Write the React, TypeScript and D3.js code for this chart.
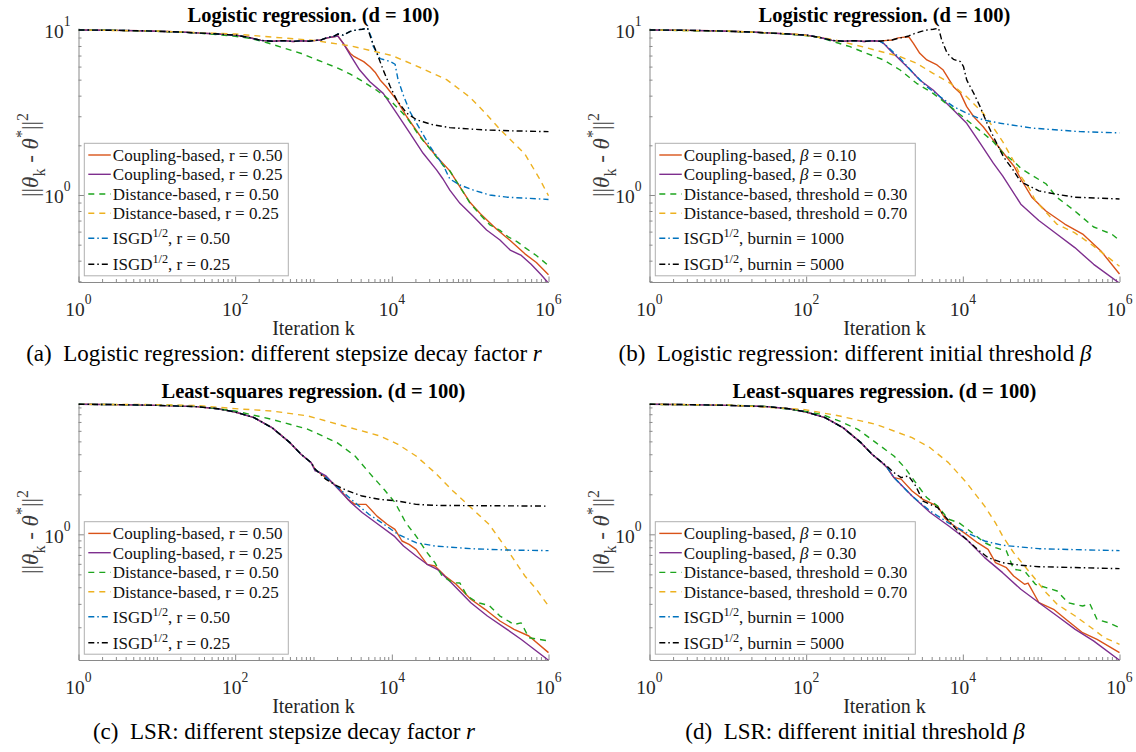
import React, { useEffect, useRef } from "react";
import * as d3 from "d3";

type Pt = [number, number]; // [iteration k, ||theta_k - theta*||^2]

// ---------- shared early paths ----------
const logisticStart: Pt[] = [[1, 10], [2, 9.97], [3, 9.95], [6, 9.9], [10, 9.82], [20, 9.72], [32, 9.6], [60, 9.45], [100, 9.3], [150, 9.0], [214, 8.65], [300, 8.55], [420, 8.62], [550, 8.52], [700, 8.6], [870, 8.55]];
const lsrStart: Pt[] = [[1, 9.5], [3, 9.45], [10, 9.33], [32, 9.12], [60, 8.8], [100, 8.32], [174, 7.54], [295, 6.34], [500, 4.89], [692, 4.0], [933, 3.46]];

// ---------- (a) logistic, stepsize decay r ----------
const aCouplingR050: Pt[] = [...logisticStart, [1000, 8.62], [1250, 8.7], [1500, 8.95], [1800, 9.1], [2040, 9.2], [2400, 8.3], [2950, 7.2], [3240, 6.95], [3700, 6.7], [4370, 6.43], [5250, 5.99], [6200, 5.5], [7080, 4.98], [8500, 4.53], [11500, 3.77], [15500, 2.98], [25100, 2.15], [37200, 1.71], [55000, 1.4], [74000, 1.12], [100000, 0.9], [135000, 0.77], [178000, 0.68], [218000, 0.62], [324000, 0.53], [500000, 0.44], [700000, 0.39], [1e6, 0.329]];
const aCouplingR025: Pt[] = [...logisticStart, [1000, 8.62], [1250, 8.7], [1500, 8.95], [1800, 9.1], [2040, 9.2], [2400, 8.3], [2950, 7.05], [3890, 5.72], [5250, 4.86], [7760, 4.13], [11500, 3.13], [17000, 2.37], [25100, 1.79], [37200, 1.42], [45000, 1.25], [55000, 1.07], [74000, 0.89], [110000, 0.74], [162000, 0.614], [240000, 0.534], [324000, 0.464], [450000, 0.43], [600000, 0.38], [800000, 0.33], [1e6, 0.292]];
const aDistR050: Pt[] = [[1, 10], [3, 9.95], [10, 9.82], [32, 9.6], [100, 9.15], [155, 8.9], [250, 8.4], [410, 7.8], [700, 7.2], [1100, 6.6], [2000, 5.9], [2950, 5.4], [4500, 4.8], [6460, 4.3], [9550, 3.75], [15500, 2.95], [22900, 2.25], [30900, 1.9], [45700, 1.5], [55000, 1.4], [74000, 1.12], [100000, 0.89], [135000, 0.757], [178000, 0.66], [240000, 0.61], [302000, 0.56], [400000, 0.52], [501000, 0.48], [700000, 0.43], [1e6, 0.373]];
const aDistR025: Pt[] = [[1, 10], [10, 9.85], [100, 9.45], [300, 9.05], [1000, 8.65], [3000, 8.0], [10000, 7.0], [20000, 6.1], [50000, 5.0], [100000, 3.9], [150000, 3.2], [250000, 2.45], [500000, 1.77], [750000, 1.28], [1e6, 0.99]];
const aIsgdR050: Pt[] = [...logisticStart, [1000, 8.62], [1250, 8.7], [1500, 9.0], [1800, 9.15], [2040, 9.45], [2400, 9.3], [2950, 9.8], [3500, 10.0], [4200, 10.1], [4900, 10.25], [5500, 9.0], [5750, 8.0], [7080, 6.7], [9550, 6.45], [11000, 6.2], [12000, 5.0], [14100, 4.0], [17000, 3.2], [20900, 2.7], [30900, 1.96], [45700, 1.5], [55000, 1.25], [74000, 1.15], [110000, 1.07], [178000, 1.0], [295000, 0.97], [1e6, 0.94]];
const aIsgdR025: Pt[] = [...logisticStart, [1000, 8.62], [1250, 8.7], [1500, 9.0], [1800, 9.15], [2040, 9.45], [2400, 9.3], [2950, 9.8], [3500, 10.0], [4200, 10.1], [4900, 10.25], [5500, 8.7], [6460, 7.22], [7760, 5.72], [9550, 4.53], [11500, 3.77], [15500, 3.13], [20900, 2.85], [33900, 2.66], [55000, 2.56], [148000, 2.48], [320000, 2.45], [1e6, 2.42]];

// ---------- (b) logistic, initial threshold beta ----------
const bCouplingB010: Pt[] = [...logisticStart, [1000, 8.62], [1250, 8.7], [1500, 8.95], [1800, 9.05], [2040, 9.1], [2340, 8.3], [2820, 7.22], [3470, 6.58], [4680, 6.14], [5620, 5.72], [7590, 4.53], [9330, 4.13], [11200, 3.43], [13800, 2.98], [18200, 2.59], [24500, 2.15], [33100, 1.79], [44700, 1.5], [55000, 1.25], [75900, 0.97], [115000, 0.8], [200000, 0.667], [339000, 0.58], [575000, 0.46], [1e6, 0.332]];
const bCouplingB030: Pt[] = [...logisticStart, [1000, 8.2], [1170, 7.57], [1585, 6.58], [2140, 5.72], [2820, 4.98], [4170, 4.33], [5620, 3.77], [7590, 3.27], [11200, 2.72], [16600, 2.06], [24500, 1.56], [32400, 1.3], [55000, 0.88], [93300, 0.7], [158000, 0.58], [269000, 0.48], [468000, 0.38], [1e6, 0.292]];
const bDistT030: Pt[] = [[1, 10], [10, 9.82], [32, 9.6], [83, 9.33], [150, 9.0], [224, 8.5], [363, 7.92], [589, 7.22], [977, 6.58], [1585, 5.72], [2570, 4.75], [4170, 4.13], [6920, 3.43], [11200, 2.85], [18200, 2.37], [24500, 2.1], [32400, 1.8], [44700, 1.6], [55000, 1.45], [79400, 1.3], [115000, 1.17], [158000, 0.97], [269000, 0.8], [468000, 0.64], [794000, 0.58], [1e6, 0.53]];
const bDistT070: Pt[] = [[1, 10], [10, 9.85], [83, 9.4], [224, 8.75], [589, 7.8], [1585, 6.89], [2570, 6.28], [4170, 5.46], [6920, 4.75], [11200, 3.94], [18200, 3.13], [24000, 2.6], [32400, 2.1], [44700, 1.6], [55000, 1.3], [70000, 1.1], [85000, 0.92], [158000, 0.667], [269000, 0.59], [468000, 0.49], [1e6, 0.37]];
const bIsgdBurn1000: Pt[] = [...logisticStart, [977, 8.3], [1585, 6.73], [2340, 5.46], [3470, 4.53], [5130, 3.94], [7590, 3.43], [11200, 3.13], [18200, 2.85], [30200, 2.72], [79400, 2.54], [316000, 2.42], [1e6, 2.38]];
const bIsgdBurn5000: Pt[] = [...logisticStart, [1000, 8.62], [1250, 8.7], [1500, 8.9], [1800, 9.05], [2040, 9.2], [2400, 9.5], [2950, 9.8], [3500, 10.0], [4200, 10.1], [4900, 10.25], [5370, 8.7], [6310, 7.22], [7590, 6.64], [9330, 6.43], [10200, 6.0], [11200, 4.98], [13800, 4.13], [16600, 3.43], [20400, 2.72], [24500, 2.26], [33100, 1.7], [44700, 1.4], [55000, 1.2], [93300, 1.06], [158000, 1.01], [269000, 0.97], [1e6, 0.946]];

// ---------- (c) LSR, stepsize decay r ----------
const cCouplingR050: Pt[] = [...lsrStart, [1050, 3.08], [1445, 2.67], [2190, 2.18], [2750, 1.83], [3390, 1.68], [4680, 1.68], [6460, 1.37], [8710, 1.19], [10960, 1.09], [13490, 0.891], [16600, 0.841], [20400, 0.771], [28200, 0.595], [35500, 0.578], [47900, 0.486], [66100, 0.421], [102000, 0.325], [155000, 0.273], [240000, 0.223], [363000, 0.193], [562000, 0.172], [1e6, 0.129]];
const cCouplingR025: Pt[] = [...lsrStart, [1050, 3.0], [1175, 2.94], [1445, 2.75], [2000, 2.24], [3020, 1.73], [4170, 1.46], [7080, 1.16], [10700, 0.97], [14100, 0.817], [20400, 0.687], [28200, 0.595], [38000, 0.546], [57500, 0.433], [102000, 0.306], [166000, 0.243], [295000, 0.193], [450000, 0.162], [1e6, 0.113]];
const cDistR050: Pt[] = [[1, 9.5], [10, 9.4], [32, 9.2], [100, 8.46], [295, 7.32], [851, 6.16], [2000, 4.89], [3390, 3.88], [5130, 2.91], [7940, 2.18], [11000, 1.73], [15100, 1.22], [20400, 0.97], [28200, 0.728], [35500, 0.612], [43700, 0.486], [60300, 0.433], [74100, 0.43], [91200, 0.344], [126000, 0.306], [174000, 0.292], [240000, 0.243], [363000, 0.21], [447000, 0.216], [562000, 0.167], [1e6, 0.158]];
const cDistR025: Pt[] = [[1, 9.5], [10, 9.45], [32, 9.3], [100, 8.81], [295, 8.46], [851, 7.76], [2450, 6.53], [7080, 5.49], [12000, 4.75], [20400, 3.88], [35500, 2.91], [60300, 2.12], [102000, 1.59], [174000, 1.19], [295000, 0.771], [500000, 0.486], [700000, 0.386], [1e6, 0.289]];
const cIsgdR050: Pt[] = [...lsrStart, [1050, 3.08], [1445, 2.67], [2190, 2.18], [3390, 1.73], [5130, 1.41], [7940, 1.19], [12000, 1.0], [20400, 0.865], [35500, 0.817], [102000, 0.78], [295000, 0.762], [1e6, 0.754]];
const cIsgdR025: Pt[] = [...lsrStart, [1050, 3.08], [1445, 2.59], [2000, 2.31], [2750, 2.12], [4170, 1.94], [7080, 1.83], [12000, 1.78], [20400, 1.68], [35500, 1.65], [1e6, 1.63]];

// ---------- (d) LSR, initial threshold beta ----------
const dCouplingB010: Pt[] = [...lsrStart, [1070, 3.2], [1320, 2.67], [1630, 2.6], [2250, 2.12], [3100, 1.83], [4250, 1.68], [4770, 1.63], [5870, 1.33], [7270, 1.19], [11100, 1.0], [15400, 0.865], [21000, 0.771], [26100, 0.612], [36000, 0.561], [44500, 0.486], [61300, 0.421], [68000, 0.43], [93800, 0.306], [144000, 0.273], [220000, 0.223], [338000, 0.182], [517000, 0.162], [1e6, 0.129]];
const dCouplingB030: Pt[] = [...lsrStart, [1070, 3.2], [1320, 2.67], [2250, 1.94], [3820, 1.46], [6550, 1.16], [11100, 0.917], [19000, 0.668], [32200, 0.515], [55000, 0.386], [93800, 0.306], [160000, 0.243], [272000, 0.193], [466000, 0.158], [1e6, 0.113]];
const dDistT030: Pt[] = [[1, 9.5], [10, 9.35], [32, 9.15], [92, 8.46], [157, 7.98], [268, 7.11], [456, 6.16], [777, 4.89], [1320, 3.88], [1820, 3.17], [2500, 2.45], [3460, 1.89], [4770, 1.63], [6550, 1.3], [8960, 1.22], [12300, 1.06], [19000, 0.865], [26100, 0.794], [36000, 0.75], [44500, 0.546], [61300, 0.53], [84500, 0.421], [116000, 0.397], [160000, 0.375], [220000, 0.306], [338000, 0.289], [419000, 0.3], [517000, 0.229], [711000, 0.217], [1e6, 0.199]];
const dDistT070: Pt[] = [[1, 9.5], [10, 9.4], [92, 8.7], [268, 7.76], [777, 6.71], [2250, 5.33], [3820, 4.48], [6550, 3.46], [11100, 2.45], [19000, 1.63], [26100, 1.22], [32200, 0.971], [44500, 0.728], [61300, 0.578], [84500, 0.459], [116000, 0.364], [160000, 0.298], [272000, 0.243], [466000, 0.193], [640000, 0.167], [1e6, 0.149]];
const dIsgdBurn1000: Pt[] = [...lsrStart, [1070, 3.2], [1320, 2.67], [2250, 1.94], [3820, 1.5], [6550, 1.22], [11100, 1.03], [19000, 0.891], [32200, 0.827], [93800, 0.78], [272000, 0.767], [1e6, 0.754]];
const dIsgdBurn5000: Pt[] = [...lsrStart, [1070, 3.26], [1320, 2.91], [1630, 2.67], [2030, 2.75], [2500, 2.31], [3100, 1.78], [3820, 1.68], [4770, 1.59], [5870, 1.37], [7270, 1.19], [8960, 1.03], [11100, 0.917], [15400, 0.771], [21000, 0.668], [32200, 0.612], [55000, 0.585], [93800, 0.571], [1e6, 0.552]];

// ---------- labels ----------
const legendR = ["Coupling-based, r = 0.50", "Coupling-based, r = 0.25", "Distance-based, r = 0.50", "Distance-based, r = 0.25", "ISGD^{1/2}, r = 0.50", "ISGD^{1/2}, r = 0.25"];
const legendBeta = ["Coupling-based, β = 0.10", "Coupling-based, β = 0.30", "Distance-based, threshold = 0.30", "Distance-based, threshold = 0.70", "ISGD^{1/2}, burnin = 1000", "ISGD^{1/2}, burnin = 5000"];
const xTickLabels = [1, 1e2, 1e4, 1e6];

const seriesColors = ["#D95319", "#7E2F8E", "#1EA51E", "#EDB120", "#0072BD", "#000000"];
const seriesDash = [null, null, "6,5", "6,5", "6,3,1.5,3", "6,3,1.5,3"];

const SERIF = "'Liberation Serif', 'Times New Roman', serif";
const W = 1136, H = 752;
const cols = [{ x0: 78.5, x1: 548.5, cx: 284, legW: 204 }, { x0: 649.5, x1: 1119.5, cx: 855, legW: 260 }];
const rows = [{ yTop: 28, yBot: 282, legTop: 143.3 }, { yTop: 404, yBot: 660, legTop: 521.7 }];

const panels = [
  { id: "a", col: 0, row: 0, title: "Logistic regression. (d = 100)", yDomain: [0.297, 10.28], yMajor: [1, 10], legend: legendR, caption: ["(a)", "Logistic regression: different stepsize decay factor ", "r"], series: [aCouplingR050, aCouplingR025, aDistR050, aDistR025, aIsgdR050, aIsgdR025] },
  { id: "b", col: 1, row: 0, title: "Logistic regression. (d = 100)", yDomain: [0.297, 10.28], yMajor: [1, 10], legend: legendBeta, caption: ["(b)", "Logistic regression: different initial threshold ", "β"], series: [bCouplingB010, bCouplingB030, bDistT030, bDistT070, bIsgdBurn1000, bIsgdBurn5000] },
  { id: "c", col: 0, row: 1, title: "Least-squares regression. (d = 100)", yDomain: [0.1135, 9.55], yMajor: [1], legend: legendR, caption: ["(c)", "LSR: different stepsize decay factor ", "r"], series: [cCouplingR050, cCouplingR025, cDistR050, cDistR025, cIsgdR050, cIsgdR025] },
  { id: "d", col: 1, row: 1, title: "Least-squares regression. (d = 100)", yDomain: [0.1135, 9.55], yMajor: [1], legend: legendBeta, caption: ["(d)", "LSR: different initial threshold ", "β"], series: [dCouplingB010, dCouplingB030, dDistT030, dDistT070, dIsgdBurn1000, dIsgdBurn5000] },
];

// text with ^{..} superscripts and italic beta
function richText(t: any, label: string, size: number) {
  const parts = label.split(/(\^\{[^}]*\}|β)/).filter((s) => s.length);
  let shift = 0;
  parts.forEach((s) => {
    if (s.startsWith("^{")) {
      const up = -size * 0.42;
      t.append("tspan").attr("dy", up - shift).attr("font-size", size * 0.72).text(s.slice(2, -1));
      shift = up;
    } else {
      const ts = t.append("tspan").attr("dy", -shift).text(s);
      shift = 0;
      if (s === "β") ts.attr("font-style", "italic");
    }
  });
}

function powLabel(t: any, v: number, size: number) {
  t.append("tspan").text("10");
  t.append("tspan").attr("dy", -size * 0.62).attr("font-size", size * 0.7).text(String(Math.round(Math.log10(v))));
}

function drawPanel(svg: any, p: any) {
  const col = cols[p.col], row = rows[p.row];
  const x = d3.scaleLog().domain([1, 1e6]).range([col.x0, col.x1]);
  const y = d3.scaleLog().domain(p.yDomain).range([row.yBot, row.yTop]);
  const axisColor = "#8a8a8a";
  const g = svg.append("g");

  const clipId = "clip-" + p.id;
  svg.append("defs").append("clipPath").attr("id", clipId).append("rect")
    .attr("x", col.x0).attr("y", row.yTop - 1).attr("width", col.x1 - col.x0 + 1).attr("height", row.yBot - row.yTop + 1);

  // tick values
  const xMinor = d3.range(0, 6).flatMap((e) => d3.range(1, 10).map((j) => j * 10 ** e)).filter((v) => !xTickLabels.includes(v));
  const yMinor = d3.range(-1, 2).flatMap((e) => d3.range(1, 10).map((j) => +(j * 10 ** e).toPrecision(3)))
    .filter((v) => v >= p.yDomain[0] && v <= p.yDomain[1] && !p.yMajor.includes(v));

  const styleAxis = (a: any) => {
    a.selectAll("line").attr("stroke", axisColor);
    a.select(".domain").attr("stroke", axisColor);
  };
  g.append("g").attr("transform", `translate(0,${row.yBot})`)
    .call(d3.axisBottom(x).tickValues(xMinor).tickSize(-3).tickSizeOuter(0).tickFormat(() => ""))
    .call((a: any) => a.select(".domain").remove()).call(styleAxis);
  g.append("g").attr("transform", `translate(0,${row.yBot})`)
    .call(d3.axisBottom(x).tickValues(xTickLabels).tickSize(-5.5).tickSizeOuter(0).tickFormat(() => ""))
    .call(styleAxis);
  g.append("g").attr("transform", `translate(${col.x0},0)`)
    .call(d3.axisLeft(y).tickValues(yMinor).tickSize(-3).tickSizeOuter(0).tickFormat(() => ""))
    .call((a: any) => a.select(".domain").remove()).call(styleAxis);
  g.append("g").attr("transform", `translate(${col.x0},0)`)
    .call(d3.axisLeft(y).tickValues(p.yMajor).tickSize(-5.5).tickSizeOuter(0).tickFormat(() => ""))
    .call(styleAxis);

  // tick labels
  const tickSize = 19.5;
  xTickLabels.forEach((v) => {
    const t = g.append("text").attr("x", x(v)).attr("y", row.yBot + 34).attr("text-anchor", "middle")
      .attr("font-family", SERIF).attr("font-size", tickSize).attr("fill", "#262626");
    powLabel(t, v, tickSize);
  });
  p.yMajor.forEach((v: number) => {
    const t = g.append("text").attr("x", col.x0 - 8).attr("y", y(v) + 8.5).attr("text-anchor", "end")
      .attr("font-family", SERIF).attr("font-size", tickSize).attr("fill", "#262626");
    powLabel(t, v, tickSize);
  });

  // curves
  const line = d3.line<Pt>().x((d) => x(d[0])).y((d) => y(d[1]));
  const lines = g.append("g").attr("clip-path", `url(#${clipId})`);
  p.series.forEach((s: Pt[], i: number) => {
    lines.append("path").attr("d", line(s)).attr("fill", "none").attr("stroke", seriesColors[i])
      .attr("stroke-width", 1.4).attr("stroke-linejoin", "round")
      .attr("stroke-dasharray", seriesDash[i]);
  });

  // title, axis labels, caption
  const cx = (col.x0 + col.x1) / 2;
  g.append("text").attr("x", cx).attr("y", row.yTop - 6).attr("text-anchor", "middle")
    .attr("font-family", SERIF).attr("font-weight", "bold").attr("font-size", 20.5).attr("fill", "#000").text(p.title);
  g.append("text").attr("x", cx).attr("y", row.yBot + 53).attr("text-anchor", "middle")
    .attr("font-family", SERIF).attr("font-size", 20).attr("fill", "#262626").text("Iteration k");

  const yl = g.append("text").attr("transform", `translate(${col.x0 - 41},${(row.yTop + row.yBot) / 2}) rotate(-90)`)
    .attr("text-anchor", "middle").attr("font-family", SERIF).attr("font-size", 23).attr("fill", "#3c3c3c");
  yl.append("tspan").text("||");
  yl.append("tspan").attr("font-style", "italic").text("θ");
  yl.append("tspan").attr("dy", 7).attr("font-size", 16).text("k");
  yl.append("tspan").attr("dy", -7).text(" - ");
  yl.append("tspan").attr("font-style", "italic").text("θ");
  yl.append("tspan").attr("dy", -11).attr("font-size", 16).text("*");
  yl.append("tspan").attr("dy", 11).text("||");
  yl.append("tspan").attr("dy", -10).attr("font-size", 16).text("2");

  const cap = g.append("text").attr("x", col.cx).attr("y", row.yBot + 79).attr("text-anchor", "middle")
    .attr("font-family", SERIF).attr("font-size", 23).attr("fill", "#000");
  cap.append("tspan").text(p.caption[0] + "\u00a0 ");
  cap.append("tspan").text(p.caption[1]);
  cap.append("tspan").attr("font-style", "italic").text(p.caption[2]);

  // legend
  const lx = col.x0 + 5.8, ly = row.legTop;
  const rowOff = [11.7, 31, 50.7, 70, 95, 121];
  const box = g.append("rect").attr("x", lx).attr("y", ly).attr("height", 132.5)
    .attr("fill", "#fff").attr("stroke", "#b0b0b0").attr("stroke-width", 1);
  let maxW = 0;
  p.legend.forEach((lab: string, i: number) => {
    const yy = ly + rowOff[i];
    g.append("line").attr("x1", lx + 4).attr("x2", lx + 26.5).attr("y1", yy).attr("y2", yy)
      .attr("stroke", seriesColors[i]).attr("stroke-width", 1.4).attr("stroke-dasharray", seriesDash[i]);
    const t = g.append("text").attr("x", lx + 28.5).attr("y", yy + 6).attr("font-family", SERIF)
      .attr("font-size", 17).attr("fill", "#111");
    richText(t, lab, 17);
    const n = t.node() as SVGTextElement;
    maxW = Math.max(maxW, n.getComputedTextLength ? n.getComputedTextLength() : 0);
  });
  box.attr("width", Math.max(col.legW, 28.5 + maxW + 4));
}

export default function App() {
  const ref = useRef<SVGSVGElement>(null);
  useEffect(() => {
    const svg = d3.select(ref.current);
    svg.selectAll("*").remove();
    panels.forEach((p) => drawPanel(svg, p));
  }, []);
  return (
    <svg ref={ref} width={W} height={H} viewBox={`0 0 ${W} ${H}`}
      style={{ position: "absolute", left: 0, top: 0, background: "#fff" }} />
  );
}
